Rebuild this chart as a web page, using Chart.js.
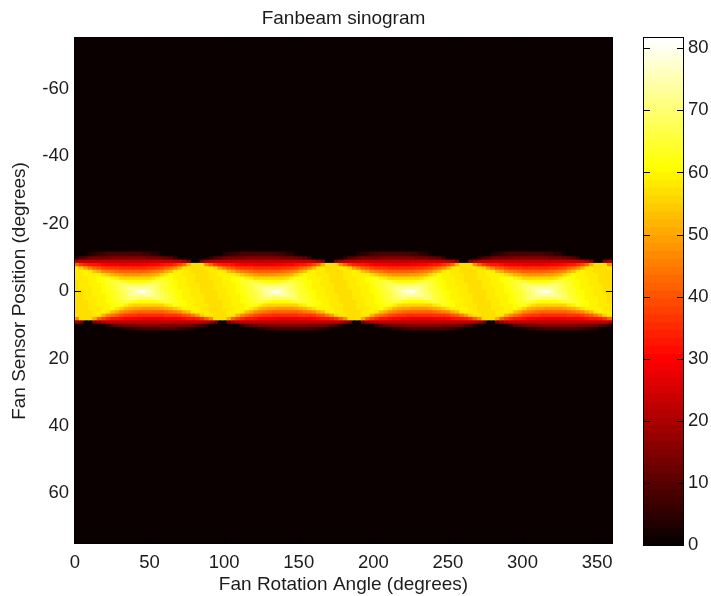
<!DOCTYPE html>
<html>
<head>
<meta charset="utf-8">
<title>Fanbeam sinogram</title>
<script src="https://cdn.jsdelivr.net/npm/chart.js@4"></script>
<style>
  html, body { margin: 0; background: #fff; }
  #wrap { position: relative; width: 711px; height: 596px; overflow: hidden; }
  #box-sino { position: absolute; left: 0; top: 0; width: 628px; height: 596px; }
  #box-bar { position: absolute; left: 620px; top: 0; width: 91px; height: 596px; }
</style>
</head>
<body>
<div id="wrap">
  <div id="box-sino"><canvas id="chart-sino"></canvas></div>
  <div id="box-bar"><canvas id="chart-bar"></canvas></div>
</div>
<script>
const titleText = 'Fanbeam sinogram';
const xTitle = 'Fan Rotation Angle (degrees)';
const yTitle = 'Fan Sensor Position (degrees)';

const xTicks = [0, 50, 100, 150, 200, 250, 300, 350];
const yTicks = [-60, -40, -20, 0, 20, 40, 60];
const barTicks = [0, 10, 20, 30, 40, 50, 60, 70, 80];

// rows of the band, everything outside them reads as zero
const sensorPositions = [-11, -10, -9, -8, -7, -6, -5, -4, -3, -2, -1, 0, 1, 2, 3, 4, 5, 6, 7, 8, 9, 10, 11];

const rotationAngles = [
  1.5, 4.5, 7.5, 10.5, 13.5, 16.5, 19.5, 22.5, 25.5, 28.5, 31.5, 34.5, 37.5, 40.5, 43.5, 46.5, 49.5, 52.5, 55.5, 58.5, 61.5, 64.5, 67.5, 70.5, 73.5, 76.5, 79.5, 82.5, 85.5, 88.5,
  91.5, 94.5, 97.5, 100.5, 103.5, 106.5, 109.5, 112.5, 115.5, 118.5, 121.5, 124.5, 127.5, 130.5, 133.5, 136.5, 139.5, 142.5, 145.5, 148.5, 151.5, 154.5, 157.5, 160.5, 163.5, 166.5, 169.5, 172.5, 175.5, 178.5,
  181.5, 184.5, 187.5, 190.5, 193.5, 196.5, 199.5, 202.5, 205.5, 208.5, 211.5, 214.5, 217.5, 220.5, 223.5, 226.5, 229.5, 232.5, 235.5, 238.5, 241.5, 244.5, 247.5, 250.5, 253.5, 256.5, 259.5, 262.5, 265.5, 268.5,
  271.5, 274.5, 277.5, 280.5, 283.5, 286.5, 289.5, 292.5, 295.5, 298.5, 301.5, 304.5, 307.5, 310.5, 313.5, 316.5, 319.5, 322.5, 325.5, 328.5, 331.5, 334.5, 337.5, 340.5, 343.5, 346.5, 349.5, 352.5, 355.5, 358.5
];

// one line per angle, one number per sensor position
const sweepA = [
  [0,4,21,41,58,58,58,58,57,57,57,57,57,57,57,57,57,57,58,47,19,0,0],
  [0,8,22,37,55,58,58,58,58,58,58,57,57,57,57,57,57,57,57,57,15,0,0],
  [0,10,22,34,49,59,59,58,58,58,58,58,58,58,57,57,57,57,57,57,0,0,0],
  [3,12,22,33,45,58,59,59,59,59,58,58,58,58,58,58,58,57,57,57,0,0,0],
  [5,13,22,32,42,53,60,60,60,59,59,59,59,58,58,58,58,58,58,51,15,0,0],
  [6,14,22,31,40,50,60,61,61,60,60,60,59,59,59,59,58,58,58,42,19,0,0],
  [7,14,22,30,38,47,57,62,62,61,61,61,60,60,60,59,59,59,52,38,21,0,0],
  [8,14,22,29,37,45,54,63,63,63,62,62,61,61,61,60,60,58,47,35,22,6,0],
  [8,15,22,29,36,44,52,60,65,64,64,63,63,62,62,61,61,53,44,33,22,9,0],
  [8,15,22,29,36,43,50,58,66,66,66,65,64,64,63,63,58,50,41,32,22,11,0],
  [8,15,22,28,35,42,49,56,64,68,68,67,66,66,65,62,55,47,39,31,22,12,2],
  [8,15,22,28,35,41,48,55,62,70,70,69,68,68,66,59,52,45,38,30,22,13,4],
  [8,15,22,28,35,41,48,55,61,68,73,72,71,70,64,57,51,44,37,30,22,14,5],
  [8,15,22,28,35,41,48,55,61,68,74,75,74,69,62,56,49,43,36,29,22,14,7],
  [8,15,22,28,35,41,48,55,61,68,74,79,74,68,61,55,49,42,35,29,22,15,7],
  [7,15,22,29,35,42,49,55,61,68,74,81,74,68,61,55,48,41,35,28,22,15,8],
  [7,14,22,29,36,43,49,56,62,69,74,75,74,68,61,55,48,41,35,28,22,15,8],
  [5,14,22,30,37,44,51,57,64,70,71,72,73,68,61,55,48,41,35,28,22,15,8],
  [4,13,22,30,38,45,52,59,66,68,68,69,70,70,62,55,48,41,35,28,22,15,8],
  [2,12,22,31,39,47,55,62,65,66,66,67,68,68,64,56,49,42,35,28,22,15,8],
  [0,11,22,32,41,50,58,63,63,64,64,65,66,66,66,58,50,43,36,29,22,15,8],
  [0,9,22,33,44,53,61,61,62,62,63,63,64,64,65,60,52,44,36,29,22,15,8],
  [0,6,22,35,47,58,60,60,61,61,61,62,62,63,63,63,54,45,37,29,22,14,8],
  [0,0,21,38,52,59,59,59,60,60,60,61,61,61,62,62,57,47,38,30,22,14,7],
  [0,0,19,42,58,58,58,59,59,59,59,60,60,60,61,61,60,50,40,31,22,14,6],
  [0,0,15,51,58,58,58,58,58,58,59,59,59,59,60,60,60,53,42,32,22,13,5],
  [0,0,0,57,57,57,58,58,58,58,58,58,58,59,59,59,59,58,45,33,22,12,3],
  [0,0,0,57,57,57,57,57,57,58,58,58,58,58,58,58,59,59,49,34,22,10,0],
  [0,0,15,57,57,57,57,57,57,57,57,57,58,58,58,58,58,58,55,37,22,8,0],
  [0,0,19,47,58,57,57,57,57,57,57,57,57,57,57,58,58,58,58,41,21,4,0]
];
const sweepB = [
  [0,4,21,41,58,58,58,58,57,57,57,57,57,57,57,57,57,57,58,47,19,0,0],
  [0,8,22,37,55,58,58,58,58,58,58,57,57,57,57,57,57,57,57,57,15,0,0],
  [0,10,22,34,49,59,59,58,58,58,58,58,58,58,57,57,57,57,57,57,0,0,0],
  [3,12,22,33,45,58,59,59,59,59,58,58,58,58,58,58,58,57,57,57,0,0,0],
  [5,13,22,32,42,53,60,60,60,59,59,59,59,58,58,58,58,58,58,51,15,0,0],
  [6,14,22,31,40,50,60,61,61,60,60,60,59,59,59,59,58,58,58,42,19,0,0],
  [7,14,22,30,38,47,57,62,62,61,61,61,60,60,60,59,59,59,52,38,21,0,0],
  [8,14,22,29,37,45,54,63,63,63,62,62,61,61,61,60,60,58,47,35,22,6,0],
  [8,15,22,29,36,44,52,60,65,64,64,63,63,62,62,61,61,53,44,33,22,9,0],
  [8,15,22,29,36,43,50,58,66,66,66,65,64,64,63,63,58,50,41,32,22,11,0],
  [8,15,22,28,35,42,49,56,64,68,68,67,66,66,65,62,55,47,39,31,22,12,2],
  [8,15,22,28,35,41,48,55,62,70,70,69,68,68,66,59,52,45,38,30,22,13,4],
  [8,15,22,28,35,41,48,55,61,68,73,72,71,70,64,57,51,44,37,30,22,14,5],
  [8,15,22,28,35,41,48,55,61,68,74,75,74,69,62,56,49,43,36,29,22,14,7],
  [8,15,22,28,35,41,48,55,61,68,74,79,74,68,61,55,49,42,35,29,22,15,7],
  [7,15,22,29,35,42,49,55,61,68,74,81,74,68,61,55,48,41,35,28,22,15,8],
  [7,14,22,29,36,43,49,56,62,69,74,75,74,68,61,55,48,41,35,28,22,15,8],
  [5,14,22,30,37,44,51,57,64,70,71,72,73,68,61,55,48,41,35,28,22,15,8],
  [4,13,22,30,38,45,52,59,66,68,68,69,70,70,62,55,48,41,35,28,22,15,8],
  [2,12,22,31,39,47,55,62,65,66,66,67,68,68,64,56,49,42,35,28,22,15,8],
  [0,11,22,32,41,50,58,63,63,64,64,65,66,66,66,58,50,43,36,29,22,15,8],
  [0,9,22,33,44,53,61,61,62,62,63,63,64,64,65,60,52,44,36,29,22,15,8],
  [0,6,22,35,47,58,60,60,61,61,61,62,62,63,63,63,54,45,37,29,22,14,8],
  [0,0,21,38,52,59,59,59,60,60,60,61,61,61,62,62,57,47,38,30,22,14,7],
  [0,0,19,42,58,58,58,59,59,59,59,60,60,60,61,61,60,50,40,31,22,14,6],
  [0,0,15,51,58,58,58,58,58,58,59,59,59,59,60,60,60,53,42,32,22,13,5],
  [0,0,0,57,57,57,58,58,58,58,58,58,58,59,59,59,59,58,45,33,22,12,3],
  [0,0,0,57,57,57,57,57,57,58,58,58,58,58,58,58,59,59,49,34,22,10,0],
  [0,0,15,57,57,57,57,57,57,57,57,57,58,58,58,58,58,58,55,37,22,8,0],
  [0,0,19,47,58,57,57,57,57,57,57,57,57,57,57,58,58,58,58,41,21,4,0]
];
const sweepC = [
  [0,4,21,41,58,58,58,58,57,57,57,57,57,57,57,57,57,57,58,47,19,0,0],
  [0,8,22,37,55,58,58,58,58,58,58,57,57,57,57,57,57,57,57,57,15,0,0],
  [0,10,22,34,49,59,59,58,58,58,58,58,58,58,57,57,57,57,57,57,0,0,0],
  [3,12,22,33,45,58,59,59,59,59,58,58,58,58,58,58,58,57,57,57,0,0,0],
  [5,13,22,32,42,53,60,60,60,59,59,59,59,58,58,58,58,58,58,51,15,0,0],
  [6,14,22,31,40,50,60,61,61,60,60,60,59,59,59,59,58,58,58,42,19,0,0],
  [7,14,22,30,38,47,57,62,62,61,61,61,60,60,60,59,59,59,52,38,21,0,0],
  [8,14,22,29,37,45,54,63,63,63,62,62,61,61,61,60,60,58,47,35,22,6,0],
  [8,15,22,29,36,44,52,60,65,64,64,63,63,62,62,61,61,53,44,33,22,9,0],
  [8,15,22,29,36,43,50,58,66,66,66,65,64,64,63,63,58,50,41,32,22,11,0],
  [8,15,22,28,35,42,49,56,64,68,68,67,66,66,65,62,55,47,39,31,22,12,2],
  [8,15,22,28,35,41,48,55,62,70,70,69,68,68,66,59,52,45,38,30,22,13,4],
  [8,15,22,28,35,41,48,55,61,68,73,72,71,70,64,57,51,44,37,30,22,14,5],
  [8,15,22,28,35,41,48,55,61,68,74,75,74,69,62,56,49,43,36,29,22,14,7],
  [8,15,22,28,35,41,48,55,61,68,74,79,74,68,61,55,49,42,35,29,22,15,7],
  [7,15,22,29,35,42,49,55,61,68,74,81,74,68,61,55,48,41,35,28,22,15,8],
  [7,14,22,29,36,43,49,56,62,69,74,75,74,68,61,55,48,41,35,28,22,15,8],
  [5,14,22,30,37,44,51,57,64,70,71,72,73,68,61,55,48,41,35,28,22,15,8],
  [4,13,22,30,38,45,52,59,66,68,68,69,70,70,62,55,48,41,35,28,22,15,8],
  [2,12,22,31,39,47,55,62,65,66,66,67,68,68,64,56,49,42,35,28,22,15,8],
  [0,11,22,32,41,50,58,63,63,64,64,65,66,66,66,58,50,43,36,29,22,15,8],
  [0,9,22,33,44,53,61,61,62,62,63,63,64,64,65,60,52,44,36,29,22,15,8],
  [0,6,22,35,47,58,60,60,61,61,61,62,62,63,63,63,54,45,37,29,22,14,8],
  [0,0,21,38,52,59,59,59,60,60,60,61,61,61,62,62,57,47,38,30,22,14,7],
  [0,0,19,42,58,58,58,59,59,59,59,60,60,60,61,61,60,50,40,31,22,14,6],
  [0,0,15,51,58,58,58,58,58,58,59,59,59,59,60,60,60,53,42,32,22,13,5],
  [0,0,0,57,57,57,58,58,58,58,58,58,58,59,59,59,59,58,45,33,22,12,3],
  [0,0,0,57,57,57,57,57,57,58,58,58,58,58,58,58,59,59,49,34,22,10,0],
  [0,0,15,57,57,57,57,57,57,57,57,57,58,58,58,58,58,58,55,37,22,8,0],
  [0,0,19,47,58,57,57,57,57,57,57,57,57,57,57,58,58,58,58,41,21,4,0]
];
const sweepD = [
  [0,4,21,41,58,58,58,58,57,57,57,57,57,57,57,57,57,57,58,47,19,0,0],
  [0,8,22,37,55,58,58,58,58,58,58,57,57,57,57,57,57,57,57,57,15,0,0],
  [0,10,22,34,49,59,59,58,58,58,58,58,58,58,57,57,57,57,57,57,0,0,0],
  [3,12,22,33,45,58,59,59,59,59,58,58,58,58,58,58,58,57,57,57,0,0,0],
  [5,13,22,32,42,53,60,60,60,59,59,59,59,58,58,58,58,58,58,51,15,0,0],
  [6,14,22,31,40,50,60,61,61,60,60,60,59,59,59,59,58,58,58,42,19,0,0],
  [7,14,22,30,38,47,57,62,62,61,61,61,60,60,60,59,59,59,52,38,21,0,0],
  [8,14,22,29,37,45,54,63,63,63,62,62,61,61,61,60,60,58,47,35,22,6,0],
  [8,15,22,29,36,44,52,60,65,64,64,63,63,62,62,61,61,53,44,33,22,9,0],
  [8,15,22,29,36,43,50,58,66,66,66,65,64,64,63,63,58,50,41,32,22,11,0],
  [8,15,22,28,35,42,49,56,64,68,68,67,66,66,65,62,55,47,39,31,22,12,2],
  [8,15,22,28,35,41,48,55,62,70,70,69,68,68,66,59,52,45,38,30,22,13,4],
  [8,15,22,28,35,41,48,55,61,68,73,72,71,70,64,57,51,44,37,30,22,14,5],
  [8,15,22,28,35,41,48,55,61,68,74,75,74,69,62,56,49,43,36,29,22,14,7],
  [8,15,22,28,35,41,48,55,61,68,74,79,74,68,61,55,49,42,35,29,22,15,7],
  [7,15,22,29,35,42,49,55,61,68,74,81,74,68,61,55,48,41,35,28,22,15,8],
  [7,14,22,29,36,43,49,56,62,69,74,75,74,68,61,55,48,41,35,28,22,15,8],
  [5,14,22,30,37,44,51,57,64,70,71,72,73,68,61,55,48,41,35,28,22,15,8],
  [4,13,22,30,38,45,52,59,66,68,68,69,70,70,62,55,48,41,35,28,22,15,8],
  [2,12,22,31,39,47,55,62,65,66,66,67,68,68,64,56,49,42,35,28,22,15,8],
  [0,11,22,32,41,50,58,63,63,64,64,65,66,66,66,58,50,43,36,29,22,15,8],
  [0,9,22,33,44,53,61,61,62,62,63,63,64,64,65,60,52,44,36,29,22,15,8],
  [0,6,22,35,47,58,60,60,61,61,61,62,62,63,63,63,54,45,37,29,22,14,8],
  [0,0,21,38,52,59,59,59,60,60,60,61,61,61,62,62,57,47,38,30,22,14,7],
  [0,0,19,42,58,58,58,59,59,59,59,60,60,60,61,61,60,50,40,31,22,14,6],
  [0,0,15,51,58,58,58,58,58,58,59,59,59,59,60,60,60,53,42,32,22,13,5],
  [0,0,0,57,57,57,58,58,58,58,58,58,58,59,59,59,59,58,45,33,22,12,3],
  [0,0,0,57,57,57,57,57,57,58,58,58,58,58,58,58,59,59,49,34,22,10,0],
  [0,0,15,57,57,57,57,57,57,57,57,57,58,58,58,58,58,58,55,37,22,8,0],
  [0,0,19,47,58,57,57,57,57,57,57,57,57,57,57,58,58,58,58,41,21,4,0]
];

// colour bar band edges, 64 bands
const barEdges = [0,1.28,2.55,3.83,5.11,6.39,7.66,8.94,10.22,11.49,12.77,14.05,15.32,16.60,17.88,19.16,20.43,21.71,22.99,24.26,25.54,26.82,28.09,29.37,30.65,31.93,33.20,34.48,35.76,37.03,38.31,39.59,40.86,42.14,43.42,44.70,45.97,47.25,48.53,49.80,51.08,52.36,53.63,54.91,56.19,57.47,58.74,60.02,61.30,62.57,63.85,65.13,66.40,67.68,68.96,70.24,71.51,72.79,74.07,75.34,76.62,77.90,79.17,80.45,81.73];

const sinogram = sweepA.concat(sweepB, sweepC, sweepD);

const valueMax = 81.73;
const fontFamily = '"Liberation Sans", Arial, sans-serif';
const inkColor = '#1c1c1c';

// matlab hot(64)
function hotColor(v) {
  let i = Math.min(63, Math.floor(v / valueMax * 64));
  let r = i < 24 ? (i + 1) / 24 : 1;
  let g = i < 24 ? 0 : (i < 48 ? (i - 23) / 24 : 1);
  let b = i < 48 ? 0 : (i - 47) / 16;
  return 'rgb(' + Math.round(r * 255) + ',' + Math.round(g * 255) + ',' + Math.round(b * 255) + ')';
}

function frameAndTicks(chart, axes) {
  const area = chart.chartArea;
  const ctx = chart.ctx;
  ctx.save();
  ctx.strokeStyle = '#000';
  ctx.lineWidth = 1;
  ctx.strokeRect(Math.round(area.left) - 0.5, Math.round(area.top) - 0.5, Math.round(area.width) + 1, Math.round(area.height));
  ctx.beginPath();
  for (let t of chart.scales.y.ticks) {
    let y = Math.round(chart.scales.y.getPixelForValue(t.value)) + 0.5;
    ctx.moveTo(area.left, y);
    ctx.lineTo(area.left + 6, y);
    ctx.moveTo(area.right, y);
    ctx.lineTo(area.right - 6, y);
  }
  if (axes.x) {
    for (let t of chart.scales.x.ticks) {
      let x = Math.round(chart.scales.x.getPixelForValue(t.value)) + 0.5;
      ctx.moveTo(x, area.bottom);
      ctx.lineTo(x, area.bottom - 6);
      ctx.moveTo(x, area.top);
      ctx.lineTo(x, area.top + 6);
    }
  }
  ctx.stroke();
  ctx.restore();
}

const sinoDatasets = sensorPositions.map(function (s, r) {
  return {
    label: 'sensor ' + s,
    data: rotationAngles.map(function (a) { return { x: a, y: [s - 0.5, s + 0.5] }; }),
    backgroundColor: rotationAngles.map(function (a, c) { return hotColor(sinogram[c][r]); })
  };
});

const configSino = {
  type: 'bar',
  data: { datasets: sinoDatasets },
  options: {
    animation: false,
    responsive: true,
    maintainAspectRatio: false,
    grouped: false,
    barPercentage: 1,
    categoryPercentage: 1,
    borderWidth: 0,
    inflateAmount: 0.6,
    layout: { padding: { left: 0, right: 16, top: 0, bottom: 0 } },
    events: [],
    plugins: {
      legend: { display: false },
      tooltip: { enabled: false },
      title: {
        display: true,
        text: titleText,
        color: inkColor,
        fullSize: false,
        font: { family: fontFamily, size: 19, weight: 'normal' },
        padding: { top: 7, bottom: 8.2 }
      }
    },
    scales: {
      x: {
        type: 'linear',
        min: 0,
        max: 360,
        offset: false,
        grid: { display: false, drawTicks: false },
        border: { display: false },
        title: { display: true, text: xTitle, color: inkColor, font: { family: fontFamily, size: 19 }, padding: { top: 0, bottom: 0 } },
        afterBuildTicks: function (scale) { scale.ticks = xTicks.map(function (v) { return { value: v }; }); },
        afterFit: function (scale) { scale.height = 52; },
        ticks: { color: inkColor, font: { family: fontFamily, size: 18.5 }, padding: 8, maxRotation: 0, autoSkip: false }
      },
      y: {
        type: 'linear',
        min: -75,
        max: 75,
        reverse: true,
        grid: { display: false, drawTicks: false },
        border: { display: false },
        title: { display: true, text: yTitle, color: inkColor, font: { family: fontFamily, size: 19 }, padding: { top: 8, bottom: 0 } },
        afterBuildTicks: function (scale) { scale.ticks = yTicks.map(function (v) { return { value: v }; }); },
        afterFit: function (scale) { scale.width = 75; },
        ticks: { color: inkColor, font: { family: fontFamily, size: 18.5 }, padding: 6, autoSkip: false }
      }
    }
  },
  plugins: [{
    id: 'frameSino',
    beforeDatasetsDraw: function (chart) {
      const area = chart.chartArea;
      chart.ctx.fillStyle = hotColor(0);
      chart.ctx.fillRect(area.left, area.top, area.width, area.height);
    },
    afterDatasetsDraw: function (chart) { frameAndTicks(chart, { x: true }); }
  }]
};

const configBar = {
  type: 'bar',
  data: {
    labels: ['level'],
    datasets: barEdges.slice(0, -1).map(function (lo, i) {
      return {
        label: 'band ' + i,
        data: [[lo, barEdges[i + 1]]],
        backgroundColor: hotColor((lo + barEdges[i + 1]) / 2)
      };
    })
  },
  options: {
    animation: false,
    responsive: true,
    maintainAspectRatio: false,
    grouped: false,
    barPercentage: 1,
    categoryPercentage: 1,
    borderWidth: 0,
    inflateAmount: 0.6,
    layout: { padding: { left: 24, right: 0, top: 37.5, bottom: 51 } },
    events: [],
    plugins: { legend: { display: false }, tooltip: { enabled: false } },
    scales: {
      x: { display: false },
      y: {
        type: 'linear',
        position: 'right',
        min: 0,
        max: valueMax,
        grid: { display: false, drawTicks: false },
        border: { display: false },
        afterBuildTicks: function (scale) { scale.ticks = barTicks.map(function (v) { return { value: v }; }); },
        afterFit: function (scale) { scale.width = 28; },
        ticks: { color: inkColor, font: { family: fontFamily, size: 18.5 }, padding: 5, autoSkip: false }
      }
    }
  },
  plugins: [{
    id: 'frameBar',
    afterDatasetsDraw: function (chart) { frameAndTicks(chart, { x: false }); }
  }]
};

const chartSino = new Chart(document.getElementById('chart-sino'), configSino);
const chartBar = new Chart(document.getElementById('chart-bar'), configBar);
</script>
</body>
</html>
